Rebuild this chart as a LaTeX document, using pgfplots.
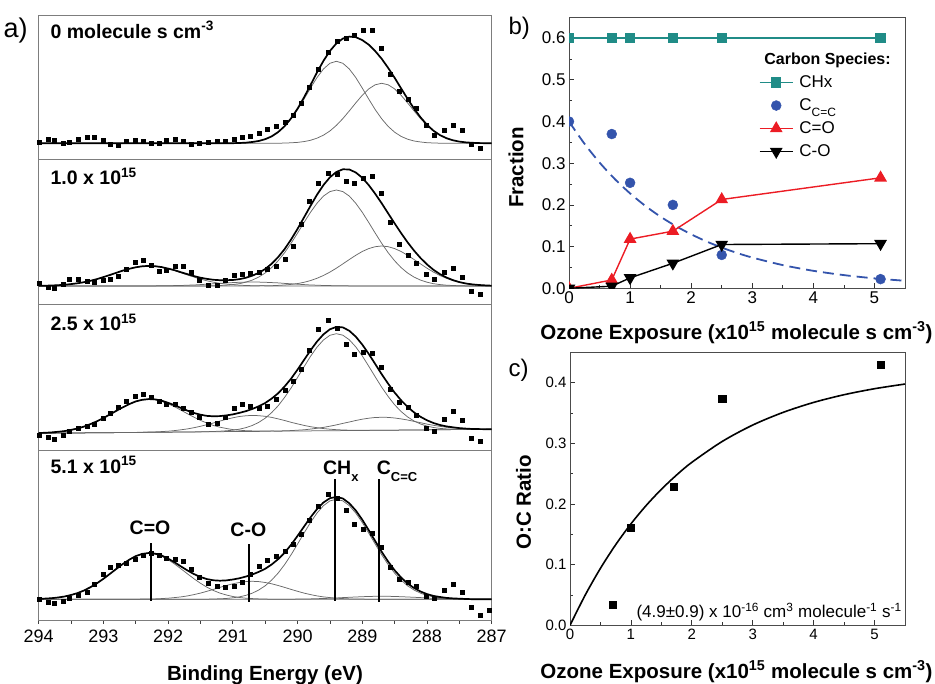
\documentclass[border=0pt]{standalone}
\usepackage{fontspec}
\setmainfont{Liberation Sans}
\usepackage{pgfplots}
\usepackage{pgfplotstable}
\pgfplotsset{compat=1.18}
\newcommand{\fs}[1]{\fontsize{#1}{#1}\selectfont}
\newcommand{\lsub}[3]{\raisebox{#2}{\fs{#1}#3}}
\definecolor{tealc}{RGB}{32,140,135}
\definecolor{bluec}{RGB}{52,84,172}
\definecolor{redc}{RGB}{236,28,36}
\definecolor{frameg}{RGB}{125,125,125}
\definecolor{compg}{RGB}{105,105,105}

\pgfplotstableread{
x h1 h2 h3 h4
293.98 0.6 2.0 -2.7 -0.7
293.85 3.3 -1.3 -4.0 -3.0
293.75 2.6 -2.7 -6.0 -4.0
293.62 -0.7 1.7 -2.7 -2.3
293.52 0.6 6.0 1.6 0.3
293.39 4.0 6.7 5.0 3.3
293.25 6.0 4.0 6.6 6.6
293.13 5.6 3.3 9.0 14.3
293.00 2.6 5.3 14.3 24.3
292.89 -1.0 6.7 20.0 32.0
292.77 -2.0 9.3 26.0 33.3
292.64 1.6 16.0 32.0 36.0
292.51 2.6 23.7 36.6 39.3
292.38 1.6 25.3 38.3 43.3
292.25 -0.7 20.0 35.3 46.0
292.13 0 14.0 31.6 43.6
292.02 2.6 15.0 29.0 41.0
291.88 3.3 19.3 28.3 40.0
291.76 1.6 19.3 25.0 37.6
291.64 -1.0 13.3 20.6 29.3
291.51 0 5.0 15.6 21.6
291.37 1.0 0 9.0 16.0
291.24 1.3 0 10.0 12.6
291.11 1.6 5.3 16.0 12.0
290.98 3.3 10.0 25.0 12.6
290.85 5.6 11.0 29.0 16.6
290.72 6.6 12.7 26.6 24.3
290.59 9.3 13.3 24.3 32.6
290.46 13.3 16.0 26.6 38.3
290.33 16.6 19.3 34.0 42.6
290.19 20.6 26.0 42.6 48.0
290.06 27.3 39.3 51.6 55.0
289.94 39.3 61.0 63.3 64.3
289.81 55.6 84.3 82.6 78.3
289.67 74.0 102.7 103.3 92.6
289.52 91.0 112.0 112.6 104.3
289.39 101.6 111.0 105.0 101.0
289.25 104.3 104.3 89.0 88.6
289.12 107.6 102.0 79.0 74.3
288.98 112.6 107.7 80.6 69.3
288.84 112.3 109.3 80.0 65.3
288.71 95.0 92.7 66.0 51.6
288.56 69.0 63.3 44.0 31.6
288.43 51.6 41.0 31.0 19.3
288.29 44.0 30.0 26.0 16.6
288.16 34.3 22.7 17.3 12.6
288.01 17.6 11.0 5.0 2.6
287.88 8.0 6.7 1.6 0.3
287.73 12.3 13.3 13.3 8.3
287.59 17.6 17.7 21.6 14.6
287.45 12.3 8.7 12.6 7.0
287.31 -1 -6 -5.0 -8.0
287.17 -5 -9 -8.4 -16.4
287.03 nan nan nan -11.4
}\dotsA

\pgfplotstableread{
x ch cc tot
294.0 0 0 0
291.1 0 0 0
291.0 0.1 0 0.1
290.9 0.3 0 0.3
290.8 0.6 0 0.6
290.7 1.3 0 1.3
290.6 2.3 0 2.3
290.5 4.1 0 4.1
290.4 6.9 0 6.9
290.3 11.1 0.1 11.2
290.2 16.9 0.2 17.1
290.1 24.5 0.5 25.0
290.0 33.7 0.9 34.6
289.9 44.2 1.7 45.9
289.8 55.2 3.0 58.2
289.7 65.7 5.1 70.8
289.6 74.3 8.1 82.4
289.5 80.0 12.3 92.3
289.4 82.0 17.9 99.9
289.3 80.0 24.7 104.7
289.2 74.3 32.4 106.7
289.1 65.7 40.4 106.1
289.0 55.2 48.0 103.2
288.9 44.2 54.4 98.6
288.8 33.7 58.5 92.2
288.7 24.5 60.0 84.5
288.6 16.9 58.5 75.4
288.5 11.1 54.4 65.5
288.4 6.9 48.0 54.9
288.3 4.1 40.4 44.5
288.2 2.3 32.4 34.7
288.1 1.3 24.7 26.0
288.0 0.6 17.9 18.5
287.9 0.3 12.3 12.6
287.8 0.1 8.1 8.2
287.7 0 5.1 5.1
287.6 0 3.0 3.0
287.5 0 1.7 1.7
287.4 0 0.9 0.9
287.3 0 0.5 0.5
287.2 0 0.2 0.2
287.1 0 0.1 0.1
287.0 0 0 0
}\pa

\pgfplotstableread{
x co cmo ch cc tot
294.0 0.2 0 0 0 0.2
293.9 0.3 0 0 0 0.3
293.8 0.5 0 0 0 0.5
293.7 0.8 0 0 0 0.8
293.6 1.2 0 0 0 1.2
293.5 1.9 0 0 0 1.9
293.4 2.7 0 0 0 2.7
293.3 3.8 0 0 0 3.8
293.2 5.2 0 0 0 5.2
293.1 6.9 0 0 0 6.9
293.0 8.9 0 0 0 8.9
292.9 11.0 0 0 0 11.0
292.8 13.2 0 0 0 13.2
292.7 15.4 0 0 0 15.4
292.6 17.2 0 0 0 17.2
292.5 18.7 0 0 0 18.7
292.4 19.7 0 0 0 19.7
292.3 20.0 0.1 0 0 20.1
292.2 19.7 0.1 0 0 19.8
292.1 18.7 0.2 0 0 18.9
292.0 17.2 0.2 0 0 17.4
291.9 15.4 0.4 0 0 15.8
291.8 13.2 0.5 0 0 13.7
291.7 11.0 0.8 0 0 11.8
291.6 8.9 1.0 0 0 9.9
291.5 6.9 1.4 0 0 8.3
291.4 5.2 1.8 0.1 0 7.1
291.3 3.8 2.2 0.2 0 6.2
291.2 2.7 2.6 0.5 0 5.8
291.1 1.9 3.1 0.8 0 5.8
291.0 1.2 3.4 1.4 0 6.0
290.9 0.8 3.7 2.3 0 6.8
290.8 0.5 3.9 3.8 0 8.2
290.7 0.3 4.0 5.9 0.1 10.3
290.6 0.2 3.9 8.9 0.1 13.1
290.5 0.1 3.7 13.0 0.2 17.0
290.4 0.1 3.4 18.4 0.3 22.2
290.3 0 3.1 25.2 0.6 28.9
290.2 0 2.6 33.3 1.0 36.9
290.1 0 2.2 42.7 1.6 46.5
290.0 0 1.8 52.9 2.4 57.1
289.9 0 1.4 63.5 3.7 68.6
289.8 0 1.0 73.7 5.4 80.1
289.7 0 0.8 82.7 7.7 91.2
289.6 0 0.5 89.9 10.5 100.9
289.5 0 0.4 94.4 13.9 108.7
289.4 0 0.2 96.0 17.8 114.0
289.3 0 0.2 94.4 22.1 116.7
289.2 0 0.1 89.9 26.5 116.5
289.1 0 0.1 82.7 30.7 113.5
289.0 0 0 73.7 34.5 108.2
288.9 0 0 63.5 37.4 100.9
288.8 0 0 52.9 39.3 92.2
288.7 0 0 42.7 40.0 82.7
288.6 0 0 33.3 39.3 72.6
288.5 0 0 25.2 37.4 62.6
288.4 0 0 18.4 34.5 52.9
288.3 0 0 13.0 30.7 43.7
288.2 0 0 8.9 26.5 35.4
288.1 0 0 5.9 22.1 28.0
288.0 0 0 3.8 17.8 21.6
287.9 0 0 2.3 13.9 16.2
287.8 0 0 1.4 10.5 11.9
287.7 0 0 0.8 7.7 8.5
287.6 0 0 0.5 5.4 5.9
287.5 0 0 0.2 3.7 3.9
287.4 0 0 0.1 2.4 2.5
287.3 0 0 0 1.6 1.6
287.2 0 0 0 1.0 1.0
287.1 0 0 0 0.6 0.6
287.0 0 0 0 0.3 0.3
}\pb

\pgfplotstableread{
x co cmo ch cc tot
294.0 0.3 0 0 0 0.3
293.9 0.5 0.1 0.1 0.1 0.5
293.8 0.9 0.1 0.1 0.1 0.9
293.7 1.5 0.2 0.2 0.2 1.5
293.6 2.2 0.2 0.2 0.2 2.2
293.5 3.4 0.3 0.3 0.3 3.4
293.4 4.8 0.3 0.3 0.3 4.8
293.3 6.7 0.4 0.4 0.4 6.7
293.2 9.2 0.5 0.5 0.5 9.2
293.1 12.0 0.5 0.5 0.5 12.0
293.0 15.3 0.6 0.6 0.6 15.3
292.9 18.8 0.6 0.6 0.6 18.8
292.8 22.5 0.7 0.7 0.7 22.5
292.7 26.0 0.7 0.7 0.7 26.0
292.6 29.2 0.8 0.8 0.8 29.2
292.5 31.8 0.9 0.9 0.9 31.9
292.4 33.4 1.0 0.9 0.9 33.5
292.3 34.0 1.2 1.0 1.0 34.2
292.2 33.5 1.4 1.0 1.0 33.9
292.1 32.0 1.7 1.1 1.1 32.6
292.0 29.5 2.1 1.1 1.1 30.5
291.9 26.5 2.7 1.2 1.2 28.0
291.8 23.1 3.5 1.3 1.3 25.3
291.7 19.5 4.4 1.3 1.3 22.6
291.6 16.1 5.6 1.4 1.4 20.3
291.5 12.9 7.0 1.5 1.4 18.6
291.4 10.2 8.6 1.6 1.5 17.4
291.3 7.8 10.3 1.8 1.5 17.0
291.2 6.1 12.2 2.1 1.6 17.2
291.1 4.8 14.0 2.5 1.7 17.9
291.0 3.7 15.5 3.1 1.7 18.9
290.9 3.1 16.8 4.1 1.8 20.4
290.8 2.6 17.5 5.6 1.8 22.1
290.7 2.4 17.9 7.8 1.9 24.3
290.6 2.2 17.6 10.9 1.9 27.0
290.5 2.2 17.0 15.1 2.0 30.3
290.4 2.2 15.9 20.7 2.2 34.7
290.3 2.1 14.4 27.5 2.3 40.0
290.2 2.2 12.8 35.9 2.5 46.8
290.1 2.2 11.0 45.3 2.7 54.6
290.0 2.3 9.4 55.8 3.1 63.7
289.9 2.3 7.9 66.5 3.5 73.3
289.8 2.4 6.6 76.9 4.2 82.9
289.7 2.5 5.6 86.1 5.0 91.7
289.6 2.5 4.7 93.3 5.9 98.9
289.5 2.6 4.1 98.0 7.1 104.0
289.4 2.6 3.6 99.6 8.4 106.4
289.3 2.7 3.3 98.1 9.9 105.9
289.2 2.7 3.1 93.5 11.3 102.5
289.1 2.8 3.0 86.4 12.8 96.6
289.0 2.9 3.0 77.4 14.1 88.7
288.9 2.9 3.0 67.1 15.1 79.4
288.8 3.0 3.0 56.5 15.8 69.3
288.7 3.0 3.0 46.1 16.0 59.1
288.6 3.1 3.1 36.8 15.9 49.6
288.5 3.1 3.1 28.5 15.3 40.7
288.4 3.2 3.2 21.8 14.4 33.0
288.3 3.3 3.3 16.4 13.3 26.4
288.2 3.3 3.3 12.3 11.9 20.9
288.1 3.4 3.4 9.3 10.6 16.5
288.0 3.4 3.4 7.2 9.2 13.0
287.9 3.5 3.5 5.8 8.0 10.3
287.8 3.5 3.5 4.9 6.9 8.3
287.7 3.6 3.6 4.4 6.1 6.9
287.6 3.7 3.7 4.2 5.5 6.0
287.5 3.7 3.7 4.0 4.9 5.2
287.4 3.8 3.8 3.9 4.6 4.7
287.3 3.8 3.8 3.8 4.3 4.3
287.2 3.9 3.9 3.9 4.2 4.2
287.1 3.9 3.9 3.9 4.1 4.1
287.0 4.0 4.0 4.0 4.1 4.1
}\pc

\pgfplotstableread{
x co cmo ch cc tot
294.0 0.4 0 0 0 0.4
293.9 0.7 0 0 0 0.7
293.8 1.1 0 0 0 1.1
293.7 1.8 0 0 0 1.8
293.6 2.8 0 0 0 2.8
293.5 4.3 0 0 0 4.3
293.4 6.2 0 0 0 6.2
293.3 8.8 0 0 0 8.8
293.2 12.1 0 0 0 12.1
293.1 16.0 0 0 0 16.0
293.0 20.5 0 0 0 20.5
292.9 25.4 0 0 0 25.4
292.8 30.4 0 0 0 30.4
292.7 35.3 0 0 0 35.3
292.6 39.6 0 0 0 39.6
292.5 43.1 0.1 0 0 43.2
292.4 45.2 0.2 0 0 45.4
292.3 46.0 0.3 0 0 46.3
292.2 45.2 0.4 0 0 45.6
292.1 43.1 0.7 0 0 43.8
292.0 39.6 1.1 0 0 40.7
291.9 35.3 1.7 0 0 37.0
291.8 30.4 2.4 0 0 32.8
291.7 25.4 3.4 0 0 28.8
291.6 20.5 4.7 0 0 25.2
291.5 16.0 6.2 0.1 0 22.3
291.4 12.1 8.0 0.1 0 20.2
291.3 8.8 9.9 0.3 0 19.0
291.2 6.2 11.9 0.5 0 18.6
291.1 4.3 13.8 0.8 0 18.9
291.0 2.8 15.5 1.5 0 19.8
290.9 1.8 16.8 2.4 0 21.0
290.8 1.1 17.7 3.9 0 22.7
290.7 0.7 18.0 6.1 0 24.8
290.6 0.4 17.7 9.3 0 27.4
290.5 0.2 16.8 13.5 0 30.5
290.4 0.1 15.5 19.2 0 34.8
290.3 0.1 13.8 26.2 0 40.1
290.2 0 11.9 34.7 0 46.6
290.1 0 9.9 44.5 0.1 54.5
290.0 0 8.0 55.2 0.2 63.4
289.9 0 6.2 66.2 0.3 72.7
289.8 0 4.7 76.8 0.4 81.9
289.7 0 3.4 86.2 0.6 90.2
289.6 0 2.4 93.6 0.8 96.8
289.5 0 1.7 98.4 1.0 101.1
289.4 0 1.1 100.0 1.3 102.4
289.3 0 0.7 98.4 1.7 100.8
289.2 0 0.4 93.6 2.0 96.0
289.1 0 0.3 86.2 2.3 88.8
289.0 0 0.2 76.8 2.6 79.6
288.9 0 0.1 66.2 2.8 69.1
288.8 0 0 55.2 3.0 58.2
288.7 0 0 44.5 3.0 47.5
288.6 0 0 34.7 3.0 37.7
288.5 0 0 26.2 2.8 29.0
288.4 0 0 19.2 2.6 21.8
288.3 0 0 13.5 2.3 15.8
288.2 0 0 9.3 2.0 11.3
288.1 0 0 6.1 1.7 7.8
288.0 0 0 3.9 1.3 5.2
287.9 0 0 2.4 1.0 3.4
287.8 0 0 1.5 0.8 2.3
287.7 0 0 0.8 0.6 1.4
287.6 0 0 0.5 0.4 0.9
287.5 0 0 0.3 0.3 0.6
287.4 0 0 0.1 0.2 0.3
287.3 0 0 0 0.1 0.1
287.2 0 0 0 0 0
287.0 0 0 0 0 0
}\pd

\pgfplotsset{
  spec/.style={scale only axis, width=453pt, xmin=287, xmax=294, x dir=reverse,
    xtick=\empty, ytick=\empty, axis line style={frameg, line width=0.9pt}, anchor=south west},
  fitc/.style={black, line width=1.7pt, no markers, line join=round},
  compc/.style={compg, line width=0.75pt, no markers, line join=round},
  dotc/.style={only marks, mark=square*, mark size=2pt, mark options={black, line width=0pt}},
  vline/.style={black, line width=1.7pt, no markers},
}
\tikzset{lab/.style={font=\fs{19.5}\bfseries}}

\begin{document}
\begin{tikzpicture}[x=1pt,y=1pt]
\path[use as bounding box] (0,0) rectangle (935,684);

\begin{axis}[spec, at={(38.7pt,525pt)}, height=144pt, ymin=-15.7, ymax=128.3]
\addplot[compc] table[x=x,y=ch]{\pa};
\addplot[compc] table[x=x,y=cc]{\pa};
\addplot[fitc] table[x=x,y=tot]{\pa};
\addplot[dotc] table[x=x,y=h1]{\dotsA};
\node[lab, anchor=base west] at (axis cs:293.87,105) {0 molecule s cm\textsuperscript{-3}};
\end{axis}

\begin{axis}[spec, at={(38.7pt,380pt)}, height=145pt, ymin=-18, ymax=127]
\addplot[compc] table[x=x,y=co]{\pb};
\addplot[compc] table[x=x,y=cmo]{\pb};
\addplot[compc] table[x=x,y=ch]{\pb};
\addplot[compc] table[x=x,y=cc]{\pb};
\addplot[fitc] table[x=x,y=tot]{\pb};
\addplot[dotc] table[x=x,y=h2]{\dotsA};
\node[lab, anchor=base west] at (axis cs:293.87,101) {1.0 x 10\textsuperscript{15}};
\end{axis}

\begin{axis}[spec, at={(38.7pt,234pt)}, height=146pt, ymin=-16.7, ymax=129.3]
\addplot[compc] table[x=x,y=co]{\pc};
\addplot[compc] table[x=x,y=cmo]{\pc};
\addplot[compc] table[x=x,y=ch]{\pc};
\addplot[compc] table[x=x,y=cc]{\pc};
\addplot[fitc] table[x=x,y=tot]{\pc};
\addplot[dotc] table[x=x,y=h3]{\dotsA};
\node[lab, anchor=base west] at (axis cs:293.87,102.6) {2.5 x 10\textsuperscript{15}};
\end{axis}

\begin{axis}[spec, at={(38.7pt,64pt)}, height=170pt, ymin=-20.7, ymax=149.3,
  xtick={287,288,289,290,291,292,293,294},
  minor xtick={287.5,288.5,289.5,290.5,291.5,292.5,293.5},
  xtick pos=left, xtick align=outside, major tick length=4pt, minor tick length=4pt,
  tick style={black!75, line width=0.8pt},
  /pgf/number format/assume math mode=true,
  xticklabel style={font=\fs{18}, yshift=-2pt}]
\addplot[compc] table[x=x,y=co]{\pd};
\addplot[compc] table[x=x,y=cmo]{\pd};
\addplot[compc] table[x=x,y=ch]{\pd};
\addplot[compc] table[x=x,y=cc]{\pd};
\addplot[fitc] table[x=x,y=tot]{\pd};
\addplot[dotc] table[x=x,y=h4]{\dotsA};
\addplot[vline] coordinates {(292.27,-1.3) (292.27,56)};
\addplot[vline] coordinates {(290.75,-2.3) (290.75,55)};
\addplot[vline] coordinates {(289.42,-1.3) (289.42,120)};
\addplot[vline] coordinates {(288.74,-2.3) (288.74,120)};
\node[lab, anchor=base west] at (axis cs:293.87,126) {5.1 x 10\textsuperscript{15}};
\node[lab, anchor=base] at (axis cs:292.28,64.3) {C=O};
\node[lab, anchor=base] at (axis cs:290.76,62.6) {C-O};
\node[lab, anchor=base west] at (axis cs:289.66,124.3) {CH\lsub{13}{-7pt}{\bfseries x}};
\node[lab, anchor=base west] at (axis cs:288.83,125) {C\lsub{13}{-7pt}{\bfseries C=C}};
\end{axis}

\begin{axis}[at={(569pt,395.7pt)}, anchor=south west, scale only axis,
  width=336pt, height=271pt, xmin=0, xmax=5.5, ymin=0, ymax=0.65,
  xtick={0,1,2,3,4,5}, ytick={0,0.1,0.2,0.3,0.4,0.5,0.6},
  minor xtick={0.5,1.5,2.5,3.5,4.5}, minor ytick={0.05,0.15,0.25,0.35,0.45,0.55},
  tick align=inside, xtick pos=left, ytick pos=left,
  major tick length=5pt, minor tick length=3pt,
  tick style={black!80, line width=0.8pt},
  axis line style={black!70, line width=1pt},
  clip marker paths=true,
  /pgf/number format/assume math mode=true,
  tick label style={font=\fs{17}},
  yticklabel style={/pgf/number format/.cd, fixed, fixed zerofill, precision=1},
  legend image code/.code={\draw[mark repeat=2,mark phase=2,#1] plot coordinates {(0pt,0pt) (16.5pt,0pt) (33pt,0pt)};},
  legend cell align=left,
  legend style={draw=none, fill=none, font=\fs{17}, at={(0.565,0.795)}, anchor=north west,
    inner sep=0pt, row sep=4pt, nodes={inner sep=2pt, text height=12pt, text depth=3pt},
    /tikz/every odd column/.append style={column sep=4pt}}]
\addplot[bluec, line width=1.8pt, dash pattern=on 11pt off 6pt, smooth, no markers, forget plot]
  coordinates {(0,0.4) (0.25,0.3474) (0.5,0.3017) (0.75,0.262) (1.0,0.2276) (1.25,0.1976) (1.5,0.1716) (1.75,0.1491) (2.0,0.1295) (2.25,0.1124) (2.5,0.0976) (2.75,0.0848) (3.0,0.0737) (3.5,0.0556) (4.0,0.0419) (4.5,0.0316) (5.0,0.0238) (5.5,0.018)};
\addplot[tealc, line width=1.4pt, mark=square*, mark size=4.5pt, mark options={fill=tealc, draw=tealc}]
  coordinates {(0,0.6) (0.7,0.6) (1.0,0.6) (1.7,0.6) (2.5,0.6) (5.1,0.6)};
\addlegendentry{CHx}
\addplot[only marks, mark=*, mark size=5pt, mark options={fill=bluec, draw=bluec}]
  coordinates {(0,0.40) (0.7,0.37) (1.0,0.253) (1.7,0.20) (2.5,0.08) (5.1,0.022)};
\addlegendentry{C\lsub{12}{-6pt}{C=C}}
\addplot[redc, line width=1.4pt, mark=triangle*, mark size=6pt, mark options={fill=redc, draw=redc}]
  coordinates {(0,0.0) (0.7,0.02) (1.0,0.118) (1.7,0.137) (2.5,0.213) (5.1,0.265)};
\addlegendentry{C=O}
\addplot[black, line width=1.4pt, mark=triangle*, mark size=6pt, mark options={rotate=180, fill=black, draw=black}]
  coordinates {(0,0.0) (0.7,0.005) (1.0,0.025) (1.7,0.06) (2.5,0.105) (5.1,0.107)};
\addlegendentry{C-O}
\node[anchor=base west, font=\fs{16}\bfseries] at (rel axis cs:0.571,0.826) {Carbon Species:};
\end{axis}

\begin{axis}[at={(570pt,58.7pt)}, anchor=south west, scale only axis,
  width=335pt, height=272.3pt, xmin=0, xmax=5.5, ymin=0, ymax=0.449,
  xtick={0,1,2,3,4,5}, ytick={0,0.1,0.2,0.3,0.4},
  minor xtick={0.5,1.5,2.5,3.5,4.5}, minor ytick={0.05,0.15,0.25,0.35},
  tick align=inside, xtick pos=left, ytick pos=left,
  major tick length=5pt, minor tick length=3pt,
  tick style={black!80, line width=0.8pt},
  axis line style={black!70, line width=1pt},
  /pgf/number format/assume math mode=true,
  tick label style={font=\fs{15}},
  yticklabel style={/pgf/number format/.cd, fixed, fixed zerofill, precision=1}]
\addplot[black, line width=1.6pt, smooth, no markers]
  coordinates {(0,0) (0.25,0.0499) (0.5,0.094) (0.75,0.1329) (1,0.1672) (1.25,0.1975) (1.5,0.2242) (1.75,0.2478) (2,0.2687) (2.5,0.3032) (3,0.3302) (3.5,0.3511) (4,0.3675) (4.5,0.3802) (5,0.3901) (5.5,0.3978)};
\addplot[only marks, mark=square*, mark size=3.7pt, mark options={fill=black, draw=black}]
  coordinates {(0.7,0.034) (1.0,0.161) (1.7,0.229) (2.5,0.374) (5.1,0.43)};
\end{axis}

\node[anchor=base west, font=\fs{27}] at (0,646) {a)};
\node[anchor=base west, font=\fs{24}] at (505,649) {b)};
\node[anchor=base west, font=\fs{24}] at (505,307) {c)};
\node[anchor=base, font=\fs{20.5}\bfseries] at (265,3.3) {Binding Energy (eV)};
\node[anchor=base, font=\fs{20.5}\bfseries] at (736.5,344.7) {Ozone Exposure (x10\textsuperscript{15} molecule s cm\textsuperscript{-3})};
\node[anchor=base, font=\fs{20.5}\bfseries] at (736.5,5.7) {Ozone Exposure (x10\textsuperscript{15} molecule s cm\textsuperscript{-3})};
\node[rotate=90, font=\fs{20.5}\bfseries] at (516,516.5) {Fraction};
\node[rotate=90, font=\fs{20.5}\bfseries] at (523.5,181.5) {O:C Ratio};
\node[anchor=base west, font=\fs{17}] at (633,66) {(4.9±0.9) x 10\textsuperscript{-16} cm\textsuperscript{3} molecule\textsuperscript{-1} s\textsuperscript{-1}};
\end{tikzpicture}
\end{document}
